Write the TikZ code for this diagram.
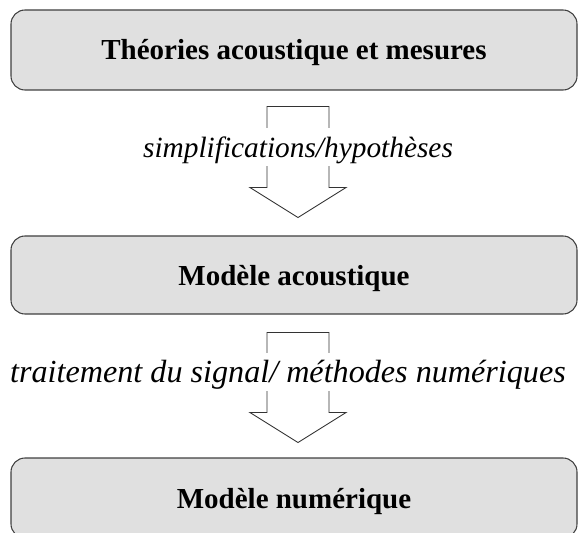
\documentclass[tikz,border=0pt]{standalone}
\usepackage{fontspec}
\setmainfont{Liberation Serif}
\usetikzlibrary{positioning,calc}

\begin{document}
\begin{tikzpicture}[
  stage/.style={draw=black!75, line width=0.6pt, rounded corners=0.28cm, fill=black!12, minimum width=11.32cm, minimum height=1.6cm, text height=0.4cm, text depth=0pt, font=\fontsize{16.5}{19}\selectfont\bfseries},
  blockarr/.style={draw=black!80, line width=0.5pt, fill=white},
  lbl/.style={fill=white, inner xsep=1pt, inner ysep=0pt, text height=0.6cm, text depth=0.16cm, font=\fontsize{16.7}{20}\selectfont\itshape},
]
  \useasboundingbox (0,0) rectangle (11.58,-10.66);

  % Boxes
  \node[stage] (theory) at (5.88,-1.0) {Théories acoustique et mesures};
  \node[stage, minimum height=1.56cm] (acoustic) at (5.88,-5.5) {Modèle acoustique};
  \node[stage] (numeric) at (5.88,-9.96) {Modèle numérique};

  % Arrows between the boxes
  \coordinate[below=0.32cm of theory, xshift=0.08cm] (a1);
  \coordinate[below=0.36cm of acoustic, xshift=0.08cm] (a2);
  \draw[blockarr, shift={(a1)}] (-0.62,0) -- (0.62,0) -- (0.62,-1.62) -- (0.96,-1.62)
    -- (0,-2.22) -- (-0.96,-1.62) -- (-0.62,-1.62) -- cycle;
  \draw[blockarr, shift={(a2)}] (-0.62,0) -- (0.62,0) -- (0.62,-1.6) -- (0.96,-1.6)
    -- (0,-2.2) -- (-0.96,-1.6) -- (-0.62,-1.6) -- cycle;

  % Labels on the arrows
  \node[lbl] (simp) at ([yshift=-0.8cm]a1) {simplifications/hypothèses};
  \node[lbl, font=\fontsize{18.3}{21}\selectfont\itshape] (signal) at ([yshift=-0.78cm, xshift=-0.2cm]a2) {traitement du signal/ méthodes numériques};
\end{tikzpicture}
\end{document}
